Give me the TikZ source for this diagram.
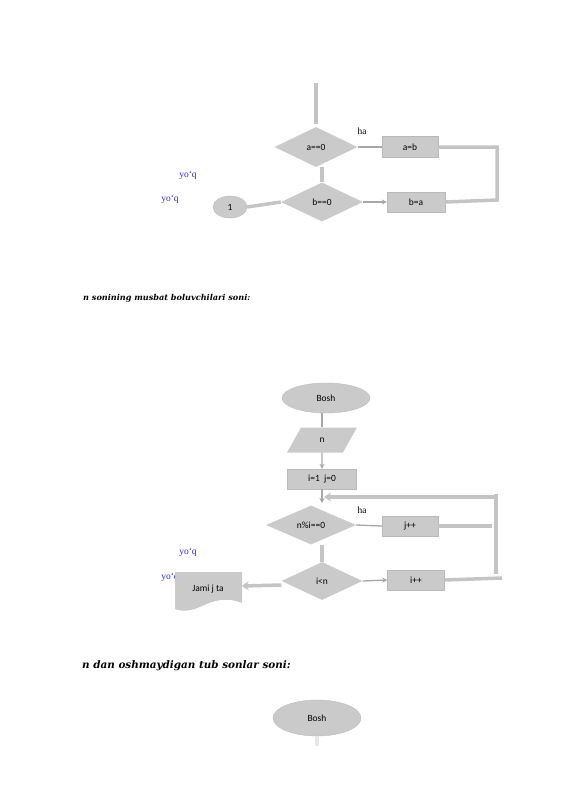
\documentclass[tikz,border=0pt]{standalone}
\usepackage{fontspec}
\setmainfont{Liberation Serif}
\newfontfamily\shapefont{Carlito}
\newfontfamily\headfont{DejaVu Serif}
\usetikzlibrary{shapes.geometric,arrows.meta}
\definecolor{shapegray}{RGB}{202,202,202}
\definecolor{edgegray}{RGB}{185,185,185}
\definecolor{linegray}{RGB}{196,196,196}
\definecolor{nocol}{RGB}{40,40,220}
\newcommand\pxu{0.3717mm}

\begin{document}
\begin{tikzpicture}[x=0.3717mm, y=-0.3717mm,
    box/.style={draw=edgegray, fill=shapegray, minimum height=20*\pxu, inner sep=0pt, font=\shapefont\fontsize{10}{12}\selectfont},
    decision/.style={diamond, fill=shapegray, minimum width=82*\pxu, minimum height=39*\pxu, inner sep=0pt, font=\shapefont\fontsize{10}{12}\selectfont},
    term/.style={ellipse, draw=edgegray, fill=shapegray, inner sep=0pt, font=\shapefont\fontsize{10}{12}\selectfont},
    io/.style={trapezium, trapezium left angle=70, trapezium right angle=110, trapezium stretches=true, fill=shapegray, minimum width=70*\pxu, minimum height=25*\pxu, inner sep=0pt, font=\shapefont\fontsize{10}{12}\selectfont},
    yesmark/.style={font=\fontsize{10}{12}\selectfont},
    nomark/.style={text=nocol, font=\fontsize{10}{12}\selectfont},
    heading/.style={anchor=west, inner sep=0pt},
    thickline/.style={draw=linegray, line width=3.5*\pxu},
    thinline/.style={draw=linegray!85!black, line width=1.3*\pxu},
    thickarrow/.style={thickline, -{Stealth[length=7*\pxu, width=9*\pxu]}},
    thinarrow/.style={thinline, -{Stealth[length=5*\pxu, width=5*\pxu]}}]
    \useasboundingbox (0,0) rectangle (565,800);

    \coordinate (start) at (316,83);
    \node[decision, minimum width=83*\pxu, minimum height=40*\pxu] (az) at (316,147) {a==0};
    \node[box, minimum width=56*\pxu, minimum height=21*\pxu] (ab) at (410,147) {a=b};
    \node[decision] (bz) at (322,202) {b==0};
    \node[box, minimum width=58*\pxu] (ba) at (416,202) {b=a};
    \node[term, minimum width=34*\pxu, minimum height=22*\pxu] (one) at (230,207) {1};
    \node[yesmark] (ha1) at (362,131) {ha};
    \node[nomark] (no1) at (188,175) {yo`q};
    \node[nomark] (no2) at (170,199) {yo`q};
    \coordinate (loopA) at (497,200);

    \draw[thickline] (start) -- ([yshift=3*\pxu]az.north);
    \draw[thinline ] (az.east) -- (ab.west);
    \draw[thickline] (ab.east) -| (loopA) -- (ba.east);
    \draw[thickline] (bz.north |- az.south) -- (bz.north);
    \draw[thinarrow] (bz.east) -- (ba.west);
    \draw[thickline] (one.east) -- (bz.west);

    \node[heading, font=\headfont\bfseries\itshape\fontsize{8.6}{10}\selectfont] (head1) at (83,298) {n sonining musbat boluvchilari soni:};

    \node[term, minimum width=88*\pxu, minimum height=30*\pxu] (bosh) at (326,398) {Bosh};
    \node[io] (n) at (322,440) {n};
    \node[box, minimum width=69*\pxu] (init) at (322,479) {i=1\ \ j=0};
    \node[decision, minimum width=90*\pxu] (mod) at (311,525) {n\%i==0};
    \node[box, minimum width=56*\pxu] (jpp) at (410,526) {j++};
    \node[decision, minimum width=81*\pxu, minimum height=38*\pxu] (cmp) at (322,581) {i<n};
    \node[box, minimum width=57*\pxu] (ipp) at (416,580) {i++};
    \node[yesmark] (ha2) at (362,510) {ha};
    \node[nomark] (no3) at (188,552) {yo`q};
    \node[nomark] (no4) at (170,577) {yo`q};
    \node[minimum width=67*\pxu, minimum height=40*\pxu, inner sep=0pt] (jami) at (208,592) {};
    \fill[shapegray] (175,572) -- (242,572) -- (242,603)
        .. controls (228,597) and (214,600) .. (202,606)
        .. controls (192,611) and (182,612) .. (175,609) -- cycle;
    \node[font=\shapefont\fontsize{10}{12}\selectfont] (jamitext) at (208,589) {Jami j ta};
    \coordinate (join) at (322,503);
    \coordinate (loopTop) at (496,497);
    \coordinate (loopBot) at (496,574);
    \coordinate (jppEnd) at (492,526);
    \coordinate (ippEnd) at (502,578);

    \draw[thinline ] (n.north |- bosh.south) -- (n.north);
    \draw[thinarrow] (n.south) -- (init.north);
    \draw[thinarrow] (init.south) -- (join);
    \draw[thickarrow] (loopTop) -- ([xshift=2*\pxu]join |- loopTop);
    \draw[thickline] (loopBot) -- ([yshift=3*\pxu]loopTop);
    \draw[thinline ] (mod.east) -- (jpp.west);
    \draw[thickline] (jpp.east) -- (jppEnd);
    \draw[thickline] (cmp.north |- mod.south) -- (cmp.north);
    \draw[thinarrow] (cmp.east) -- (ipp.west);
    \draw[thickline] (ipp.east) -- (ippEnd);
    \draw[thickarrow] ([yshift=-4*\pxu]cmp.west) -- (jami.east |- 0,586);

    \node[heading, font=\headfont\bfseries\itshape\fontsize{11}{13}\selectfont] (head2) at (82,666) {n dan oshmaydigan tub sonlar soni:};

    \node[term, minimum width=88*\pxu, minimum height=36*\pxu] (bosh2) at (317,718) {Bosh};
    \coordinate (tail) at (317,746);
    \draw[thickline, draw=linegray!40] (bosh2.south) -- (tail);
\end{tikzpicture}
\end{document}
